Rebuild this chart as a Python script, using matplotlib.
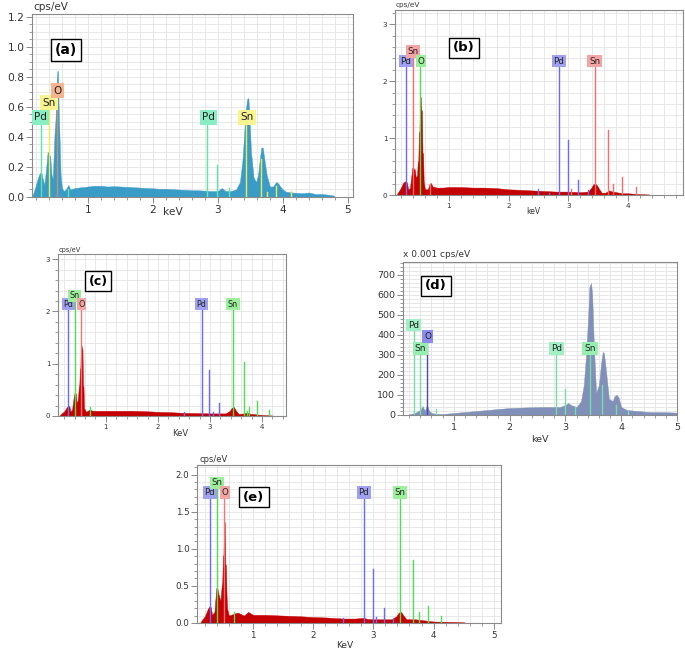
"""Five EDS spectra (a)-(e) of Pd/SnO2 samples, laid out as in the composite figure."""
import matplotlib
matplotlib.use('Agg')
import matplotlib.pyplot as plt
from matplotlib.ticker import MultipleLocator

W, H = 685, 650

# ---- (a) blue spectrum ----
A_KEV = [0.14, 0.18, 0.22, 0.25, 0.28, 0.30, 0.33, 0.36, 0.38, 0.40, 0.42, 0.44, 0.46, 0.48,
         0.49, 0.50, 0.51, 0.52, 0.53, 0.54, 0.55, 0.56, 0.57, 0.58, 0.60, 0.63, 0.66, 0.70,
         0.73, 0.80, 0.90, 1.0, 1.1, 1.2, 1.3, 1.4, 1.5, 1.6, 1.7, 1.8, 1.9, 2.0, 2.1, 2.2,
         2.3, 2.4, 2.5, 2.6, 2.7, 2.8, 2.9, 3.0, 3.06, 3.12, 3.2, 3.28, 3.34, 3.38, 3.41, 3.43,
         3.45, 3.47, 3.49, 3.51, 3.55, 3.59, 3.62, 3.65, 3.67, 3.69, 3.71, 3.75, 3.80, 3.85,
         3.88, 3.90, 3.93, 3.96, 4.0, 4.05, 4.15, 4.3, 4.4, 4.5, 4.6, 4.7, 4.78, 4.80]
A_CPS = [0.0, 0.05, 0.11, 0.15, 0.17, 0.13, 0.08, 0.20, 0.30, 0.29, 0.27, 0.15, 0.12, 0.35,
         0.45, 0.50, 0.62, 0.78, 0.84, 0.84, 0.60, 0.45, 0.30, 0.15, 0.06, 0.04, 0.05, 0.08,
         0.05, 0.06, 0.065, 0.07, 0.075, 0.075, 0.07, 0.072, 0.07, 0.068, 0.065, 0.063, 0.06,
         0.058, 0.055, 0.055, 0.052, 0.05, 0.048, 0.045, 0.045, 0.042, 0.04, 0.04, 0.06, 0.04,
         0.04, 0.05, 0.10, 0.25, 0.45, 0.58, 0.65, 0.66, 0.50, 0.30, 0.13, 0.10, 0.15, 0.27,
         0.33, 0.33, 0.27, 0.15, 0.07, 0.07, 0.09, 0.10, 0.09, 0.07, 0.05, 0.035, 0.03, 0.025,
         0.03, 0.02, 0.02, 0.015, 0.01, 0.0]
A_LINE_KEV = [0.28, 0.40, 0.525, 0.69, 2.84, 2.99, 3.17, 3.44, 3.66, 3.75, 3.90, 4.13]
A_LINE_H = [0.53, 0.63, 0.71, 0.05, 0.53, 0.21, 0.06, 0.53, 0.25, 0.03, 0.07, 0.04]
A_LINE_EL = ['Pd', 'Sn', 'O', 'Pd', 'Pd', 'Pd', 'Pd', 'Sn', 'Sn', 'Sn', 'Sn', 'Sn']

# ---- (b) red spectrum ----
B_KEV = [0.12, 0.16, 0.20, 0.24, 0.27, 0.30, 0.32, 0.35, 0.37, 0.39, 0.41, 0.43, 0.45, 0.47,
         0.48, 0.49, 0.50, 0.51, 0.52, 0.53, 0.54, 0.55, 0.56, 0.57, 0.58, 0.60, 0.65, 0.68,
         0.70, 0.73, 0.80, 0.90, 1.0, 1.2, 1.4, 1.6, 1.8, 2.0, 2.2, 2.4, 2.6, 2.8, 3.0, 3.2,
         3.33, 3.38, 3.42, 3.45, 3.48, 3.52, 3.56, 3.62, 3.68, 3.74, 3.80, 3.90, 4.0, 4.2, 4.35,
         4.36]
B_CPS = [0.0, 0.06, 0.13, 0.22, 0.24, 0.22, 0.10, 0.12, 0.30, 0.48, 0.47, 0.45, 0.30, 0.35,
         0.58, 0.60, 1.10, 1.12, 1.73, 1.72, 1.50, 1.48, 0.75, 0.72, 0.25, 0.10, 0.10, 0.20,
         0.21, 0.15, 0.13, 0.13, 0.14, 0.14, 0.13, 0.13, 0.12, 0.10, 0.09, 0.08, 0.07, 0.06,
         0.06, 0.05, 0.06, 0.12, 0.19, 0.20, 0.17, 0.10, 0.04, 0.04, 0.08, 0.06, 0.05, 0.03,
         0.03, 0.015, 0.01, 0.0]
B_LINE_KEV = [0.28, 0.40, 0.525, 0.69, 2.50, 2.67, 2.84, 2.99, 3.05, 3.17, 3.33, 3.44, 3.66,
              3.75, 3.90, 4.13]
B_LINE_H = [2.35, 2.52, 2.35, 0.2, 0.1, 0.04, 2.35, 0.97, 0.1, 0.27, 0.08, 2.35, 1.15, 0.2,
            0.32, 0.14]
B_LINE_EL = ['Pd', 'Sn', 'O', 'Sn', 'Pd', 'Pd', 'Pd', 'Pd', 'Sn', 'Pd', 'Pd', 'Sn', 'Sn',
             'Sn', 'Sn', 'Sn']

# ---- (c) red spectrum ----
C_KEV = [0.10, 0.15, 0.20, 0.25, 0.28, 0.30, 0.32, 0.35, 0.38, 0.40, 0.42, 0.44, 0.46, 0.48,
         0.49, 0.50, 0.51, 0.52, 0.53, 0.54, 0.55, 0.56, 0.57, 0.58, 0.62, 0.68, 0.75, 0.90,
         1.0, 1.2, 1.5, 1.8, 2.0, 2.2, 2.5, 2.8, 3.0, 3.3, 3.38, 3.42, 3.46, 3.50, 3.55, 3.65,
         3.70, 3.80, 4.0, 4.2, 4.22]
C_CPS = [0.0, 0.05, 0.09, 0.17, 0.20, 0.18, 0.09, 0.12, 0.35, 0.45, 0.43, 0.25, 0.30, 0.55,
         0.60, 0.90, 0.92, 1.35, 1.36, 1.30, 1.28, 0.60, 0.55, 0.15, 0.08, 0.12, 0.10, 0.10,
         0.10, 0.10, 0.10, 0.09, 0.08, 0.075, 0.06, 0.055, 0.05, 0.05, 0.10, 0.16, 0.17, 0.10,
         0.04, 0.05, 0.06, 0.04, 0.02, 0.01, 0.0]
C_LINE_KEV = [0.28, 0.40, 0.525, 0.69, 2.50, 2.84, 2.99, 3.05, 3.17, 3.44, 3.66, 3.72, 3.75,
              3.90, 4.13]
C_LINE_H = [2.14, 2.30, 2.14, 0.18, 0.08, 2.14, 0.88, 0.08, 0.25, 2.14, 1.03, 0.10, 0.18,
            0.28, 0.12]
C_LINE_EL = ['Pd', 'Sn', 'O', 'Sn', 'Pd', 'Pd', 'Pd', 'Pd', 'Pd', 'Sn', 'Sn', 'Sn', 'Sn',
             'Sn', 'Sn']

# ---- (d) grey-blue spectrum (x 0.001 cps/eV) ----
D_KEV = [0.15, 0.30, 0.40, 0.44, 0.48, 0.52, 0.56, 0.60, 0.70, 0.80, 1.0, 1.2, 1.4, 1.6, 1.8,
         2.0, 2.3, 2.6, 2.9, 3.0, 3.05, 3.10, 3.20, 3.28, 3.33, 3.37, 3.41, 3.43, 3.46, 3.48,
         3.51, 3.55, 3.60, 3.64, 3.67, 3.69, 3.72, 3.78, 3.85, 3.88, 3.92, 3.95, 4.0, 4.1, 4.3,
         4.5, 4.8, 5.0]
D_CPS = [0, 10, 25, 45, 20, 50, 20, 10, 5, 5, 10, 15, 20, 25, 30, 35, 38, 40, 40, 50, 60,
         50, 40, 70, 150, 300, 500, 640, 660, 600, 350, 110, 150, 260, 315, 310, 240, 80, 70,
         95, 100, 90, 40, 25, 20, 15, 14, 12]
D_LINE_KEV = [0.28, 0.40, 0.525, 0.69, 2.84, 2.99, 3.17, 3.44, 3.66, 3.90, 4.13]
D_LINE_H = [450, 333, 392, 30, 333, 130, 40, 333, 150, 50, 20]
D_LINE_EL = ['Pd', 'Sn', 'O', 'Sn', 'Pd', 'Pd', 'Pd', 'Sn', 'Sn', 'Sn', 'Sn']

# ---- (e) red spectrum ----
E_KEV = [0.12, 0.16, 0.20, 0.25, 0.28, 0.30, 0.32, 0.36, 0.39, 0.41, 0.43, 0.46, 0.48, 0.49,
         0.50, 0.51, 0.52, 0.53, 0.54, 0.55, 0.56, 0.57, 0.60, 0.70, 0.75, 0.85, 0.92, 1.0,
         1.2, 1.5, 1.8, 2.0, 2.2, 2.5, 2.7, 2.84, 2.9, 3.0, 3.3, 3.38, 3.42, 3.46, 3.50, 3.55,
         3.65, 3.70, 3.80, 4.0, 4.3, 4.5, 4.55]
E_CPS = [0.0, 0.05, 0.09, 0.19, 0.23, 0.21, 0.11, 0.15, 0.47, 0.46, 0.38, 0.30, 0.50, 0.55,
         0.90, 0.92, 1.35, 1.36, 0.80, 0.78, 0.40, 0.20, 0.10, 0.13, 0.14, 0.10, 0.15, 0.11,
         0.11, 0.10, 0.09, 0.08, 0.075, 0.06, 0.06, 0.07, 0.055, 0.05, 0.05, 0.09, 0.14, 0.15,
         0.10, 0.05, 0.05, 0.05, 0.04, 0.02, 0.015, 0.01, 0.0]
E_LINE_KEV = [0.28, 0.40, 0.525, 0.69, 2.50, 2.84, 2.99, 3.05, 3.17, 3.33, 3.44, 3.66, 3.75,
              3.90, 4.13]
E_LINE_H = [1.76, 1.89, 1.76, 0.15, 0.07, 1.76, 0.73, 0.08, 0.20, 0.05, 1.76, 0.85, 0.15,
            0.23, 0.10]
E_LINE_EL = ['Pd', 'Sn', 'O', 'Sn', 'Pd', 'Pd', 'Pd', 'Pd', 'Pd', 'Pd', 'Sn', 'Sn', 'Sn',
             'Sn', 'Sn']

# element labels shown on top of lines: (keV, height, text)
A_LABELS = [(0.27, 0.53, 'Pd'), (0.40, 0.63, 'Sn'), (0.53, 0.71, 'O'), (2.85, 0.53, 'Pd'), (3.45, 0.53, 'Sn')]
B_LABELS = [(0.28, 2.35, 'Pd'), (0.40, 2.52, 'Sn'), (0.53, 2.35, 'O'), (2.84, 2.35, 'Pd'), (3.44, 2.35, 'Sn')]
C_LABELS = [(0.28, 2.14, 'Pd'), (0.40, 2.30, 'Sn'), (0.53, 2.14, 'O'), (2.84, 2.14, 'Pd'), (3.44, 2.14, 'Sn')]
D_LABELS = [(0.28, 450, 'Pd'), (0.40, 333, 'Sn'), (0.53, 392, 'O'), (2.84, 333, 'Pd'), (3.44, 333, 'Sn')]
E_LABELS = [(0.28, 1.76, 'Pd'), (0.40, 1.89, 'Sn'), (0.53, 1.76, 'O'), (2.84, 1.76, 'Pd'), (3.44, 1.76, 'Sn')]

# element -> (line colour, label background)
COL_A = {'Pd': ('#5ee3a8', '#8aeec4'), 'Sn': ('#ecec50', '#f8f590'), 'O': ('#c89070', '#f4b48e')}
COL_RED = {'Pd': ('#6a6aff', '#a0a0f0'), 'Sn': ('#4ee04e', '#9cf09c'), 'O': ('#ff7070', '#f4a4a4')}
COL_B = {'Pd': ('#6a6aff', '#a0a0f0'), 'Sn': ('#ff6a6a', '#f4a4a4'), 'O': ('#4ee04e', '#9cf09c')}
COL_D = {'Pd': ('#74e0a8', '#a0f0c4'), 'Sn': ('#74e0a8', '#96eeb0'), 'O': ('#4848c0', '#8c8cee')}

GRID = '#e4e4e4'
FRAME = '#8a8a8a'
TXT = '#333333'


def px_axes(fig, l, t, r, b):
    return fig.add_axes([l / W, 1 - b / H, (r - l) / W, (b - t) / H])


def ftext(fig, x, y, s, **kw):
    return fig.text(x / W, 1 - y / H, s, **kw)


def panel(ax, kev, cps, fill, lkev, lh, lel, labels, cols, xlim, ylim,
          ymaj, ymin_, yfmt, fs, lfs):
    ax.fill_between(kev, 0, cps, color=fill, lw=0.3, ec=fill, zorder=2)
    for e, h, el in zip(lkev, lh, lel):
        ax.plot([e, e], [0, h], color=cols[el][0], lw=1.0, zorder=3)
    for e, h, s in labels:
        ax.text(e, h, s, fontsize=lfs, ha='center', va='center', color='#222222', zorder=5,
                bbox=dict(boxstyle='square,pad=0.2', fc=cols[s][1], ec='none'))
    ax.set_xlim(*xlim)
    ax.set_ylim(*ylim)
    ax.xaxis.set_major_locator(MultipleLocator(1))
    ax.xaxis.set_minor_locator(MultipleLocator(0.2))
    ax.yaxis.set_major_locator(MultipleLocator(ymaj))
    ax.yaxis.set_minor_locator(MultipleLocator(ymin_))
    ax.yaxis.set_major_formatter(yfmt)
    ax.grid(True, which='both', color=GRID, lw=0.6, zorder=0)
    ax.set_axisbelow(True)
    ax.tick_params(which='both', direction='out', colors=FRAME, labelcolor=TXT, labelsize=fs,
                   pad=1.5)
    ax.tick_params(which='major', length=4, width=0.7)
    ax.tick_params(which='minor', length=2.5, width=0.6)
    for s in ax.spines.values():
        s.set_color(FRAME)
        s.set_linewidth(0.8)


def tag(fig, x, y, s, fs):
    ftext(fig, x, y, s, fontsize=fs, fontweight='bold', ha='center', va='center', color='black',
          bbox=dict(boxstyle='square,pad=0.3', fc='white', ec='black', lw=1.0), zorder=10)


def main():
    fig = plt.figure(figsize=(W / 100, H / 100), dpi=100)

    # (a)
    ax = px_axes(fig, 32, 14, 353, 197)
    panel(ax, A_KEV, A_CPS, '#3a9cc6', A_LINE_KEV, A_LINE_H, A_LINE_EL, A_LABELS, COL_A,
          (0.14, 5.08), (0, 1.22), 0.2, 0.05, '{x:.1f}', 7.7, 7.5)
    ftext(fig, 33, 7, 'cps/eV', fontsize=7.5, color=TXT, va='center')
    ftext(fig, 173, 212, 'keV', fontsize=7.7, color=TXT, ha='center', va='center')
    tag(fig, 66, 50, '(a)', 10)

    # (b)
    ax = px_axes(fig, 395, 10, 683, 195)
    panel(ax, B_KEV, B_CPS, '#c40000', B_LINE_KEV, B_LINE_H, B_LINE_EL, B_LABELS, COL_B,
          (0.1, 4.92), (0, 3.25), 1, 0.2, '{x:.0f}', 5.2, 6.3)
    ftext(fig, 396, 5, 'cps/eV', fontsize=5.2, color=TXT, va='center')
    ftext(fig, 533, 212, 'keV', fontsize=5.5, color=TXT, ha='center', va='center')
    tag(fig, 464, 48, '(b)', 9.5)

    # (c)
    ax = px_axes(fig, 58, 254, 286, 416)
    panel(ax, C_KEV, C_CPS, '#c40000', C_LINE_KEV, C_LINE_H, C_LINE_EL, C_LABELS, COL_RED,
          (0.08, 4.46), (0, 3.1), 1, 0.2, '{x:.0f}', 5, 5.8)
    ftext(fig, 59, 250, 'cps/eV', fontsize=4.8, color=TXT, va='center')
    ftext(fig, 180, 433, 'KeV', fontsize=6, color=TXT, ha='center', va='center')
    tag(fig, 98, 281, '(c)', 9)

    # (d)
    ax = px_axes(fig, 403, 262, 677, 415)
    panel(ax, D_KEV, D_CPS, '#8090b8', D_LINE_KEV, D_LINE_H, D_LINE_EL, D_LABELS, COL_D,
          (0.09, 5.0), (0, 765), 100, 20, '{x:.0f}', 6.8, 6.5)
    ftext(fig, 403, 255, 'x 0.001 cps/eV', fontsize=6.5, color=TXT, va='center')
    ftext(fig, 540, 440, 'keV', fontsize=6.8, color=TXT, ha='center', va='center')
    tag(fig, 436, 286, '(d)', 9.5)

    # (e)
    ax = px_axes(fig, 197, 465, 501, 623)
    panel(ax, E_KEV, E_CPS, '#c40000', E_LINE_KEV, E_LINE_H, E_LINE_EL, E_LABELS, COL_RED,
          (0.07, 5.12), (0, 2.13), 0.5, 0.1, '{x:.1f}', 6.3, 6.2)
    ftext(fig, 200, 460, 'cps/eV', fontsize=6, color=TXT, va='center')
    ftext(fig, 345, 645, 'KeV', fontsize=6.5, color=TXT, ha='center', va='center')
    tag(fig, 254, 497, '(e)', 9.5)

    fig.savefig('out.png', dpi=100, facecolor='white')
    plt.close(fig)


if __name__ == '__main__':
    main()
